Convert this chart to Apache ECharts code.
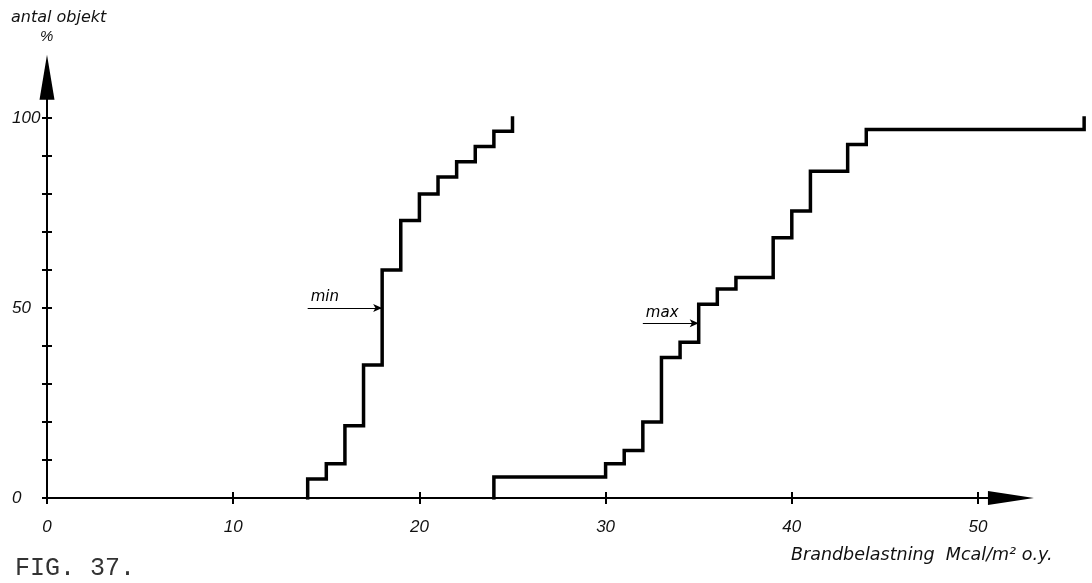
<!DOCTYPE html>
<html>
<head>
<meta charset="utf-8">
<script src="https://cdn.jsdelivr.net/npm/echarts@6/dist/echarts.min.js"></script>
<style>
html,body{margin:0;padding:0;background:#fff;}
#chart{width:1092px;height:583px;}
</style>
</head>
<body>
<div id="chart"></div>
<script>
// ---- data ----
const xTickLabels = [0, 10, 20, 30, 40, 50];
const yTickValues = [0, 10, 20, 30, 40, 50, 60, 70, 80, 90, 100];
const yTickLabels = [0, 50, 100];
// "min" curve: x where the cumulative share rises, and the level reached (%)
const minX = [14, 15, 16, 17, 18, 19, 20, 21, 22, 23, 24, 25];
const minY = [5, 9, 19, 35, 60, 73, 80, 84.5, 88.5, 92.5, 96.5, 100];
// "max" curve
const maxX = [24, 30, 31, 32, 33, 34, 35, 36, 37, 39, 40, 41, 43, 44, 55.7];
const maxY = [5.5, 9, 12.5, 20, 37, 41, 51, 55, 58, 68.5, 75.5, 86, 93, 97, 100];
// annotation arrows: [label, xStart, xEnd, level]
const annMin = ['min', 14, 18, 50];
const annMax = ['max', 32, 35, 46];

// ---- layout ----
const Y0 = 498, PXY = 3.8, X0 = 47, PXX = 18.62;
const yMax = 110.7;
const gridTop = Y0 - yMax * PXY;
const gridBottom = 583 - Y0;
const axisXMax = 51.77;
const dataXMax = (1092 - X0) / PXX;

const stepData = (xs, ys) => [[xs[0], 0]].concat(xs.map((x, i) => [x, ys[i]]));

const numFont = {fontFamily: 'Liberation Sans', fontSize: 17, color: '#111'};

const chart = echarts.init(document.getElementById('chart'), null, {renderer: 'canvas'});

function annotation(a) {
  return {
    silent: true,
    symbol: ['none', 'arrow'],
    symbolSize: [6, 9],
    lineStyle: {color: '#000', width: 1, type: 'solid'},
    label: {
      show: true, position: 'insideStartTop', formatter: a[0],
      color: '#000', fontSize: 15, fontStyle: 'italic', fontFamily: 'DejaVu Sans', distance: 3
    },
    data: [[{coord: [a[1], a[3]]}, {coord: [a[2], a[3]]}]]
  };
}

const option = {
  backgroundColor: '#fff',
  animation: false,
  title: [
    {text: 'antal objekt', left: 11, top: 10, padding: 0,
     textStyle: {fontSize: 16, fontStyle: 'italic', fontWeight: 'normal', fontFamily: 'DejaVu Sans', color: '#111'}},
    {text: '%', left: 40, top: 29, padding: 0,
     textStyle: {fontSize: 15, fontStyle: 'italic', fontWeight: 'normal', fontFamily: 'Liberation Sans', color: '#111'}},
    {text: 'FIG. 37.', left: 15, top: 556, padding: 0,
     textStyle: {fontSize: 25, fontWeight: 'normal', fontFamily: 'Liberation Mono', color: '#333'}},
    {text: 'Brandbelastning  Mcal/m² o.y.', left: 791, top: 546, padding: 0,
     textStyle: {fontSize: 17.5, fontStyle: 'italic', fontWeight: 'normal', fontFamily: 'DejaVu Sans', color: '#111'}}
  ],
  grid: [
    {left: X0, width: axisXMax * PXX, top: gridTop, bottom: gridBottom},
    {left: X0, width: axisXMax * PXX, top: gridTop, bottom: gridBottom},
    {left: X0, right: 0, top: gridTop, bottom: gridBottom}
  ],
  xAxis: [
    {gridIndex: 0, type: 'value', min: 0, max: axisXMax, interval: 10,
     axisLine: {show: true, symbol: ['none', 'triangle'], symbolSize: [14, 46], lineStyle: {color: '#000', width: 2}},
     axisTick: {show: true, length: 6, customValues: xTickLabels, lineStyle: {color: '#000', width: 2}},
     axisLabel: Object.assign({margin: 21, customValues: xTickLabels, formatter: v => String(v), fontStyle: 'italic'}, numFont),
     splitLine: {show: false}},
    {gridIndex: 1, type: 'value', min: 0, max: axisXMax, interval: 10,
     axisLine: {show: false},
     axisTick: {show: true, inside: true, length: 6, customValues: xTickLabels, lineStyle: {color: '#000', width: 2}},
     axisLabel: {show: false}, splitLine: {show: false}},
    {gridIndex: 2, type: 'value', min: 0, max: dataXMax, show: false, splitLine: {show: false}}
  ],
  yAxis: [
    {gridIndex: 0, type: 'value', min: 0, max: yMax, interval: 10,
     axisLine: {show: true, symbol: ['none', 'triangle'], symbolSize: [15, 45], lineStyle: {color: '#000', width: 2}},
     axisTick: {show: true, length: 5, customValues: yTickValues, lineStyle: {color: '#000', width: 2}},
     axisLabel: Object.assign({margin: 35, align: 'left', customValues: yTickLabels, formatter: v => String(v), fontStyle: 'italic'}, numFont),
     splitLine: {show: false}},
    {gridIndex: 1, type: 'value', min: 0, max: yMax, interval: 10,
     axisLine: {show: false},
     axisTick: {show: true, inside: true, length: 5, customValues: yTickValues, lineStyle: {color: '#000', width: 2}},
     axisLabel: {show: false}, splitLine: {show: false}},
    {gridIndex: 2, type: 'value', min: 0, max: yMax, show: false, splitLine: {show: false}}
  ],
  series: [
    {name: 'min', type: 'line', xAxisIndex: 2, yAxisIndex: 2, step: 'end',
     showSymbol: false, symbol: 'none', silent: true,
     lineStyle: {color: '#000', width: 3.5, cap: 'square', join: 'miter'},
     data: stepData(minX, minY), markLine: annotation(annMin)},
    {name: 'max', type: 'line', xAxisIndex: 2, yAxisIndex: 2, step: 'end',
     showSymbol: false, symbol: 'none', silent: true,
     lineStyle: {color: '#000', width: 3.5, cap: 'square', join: 'miter'},
     data: stepData(maxX, maxY), markLine: annotation(annMax)}
  ]
};
chart.setOption(option);
</script>
</body>
</html>
